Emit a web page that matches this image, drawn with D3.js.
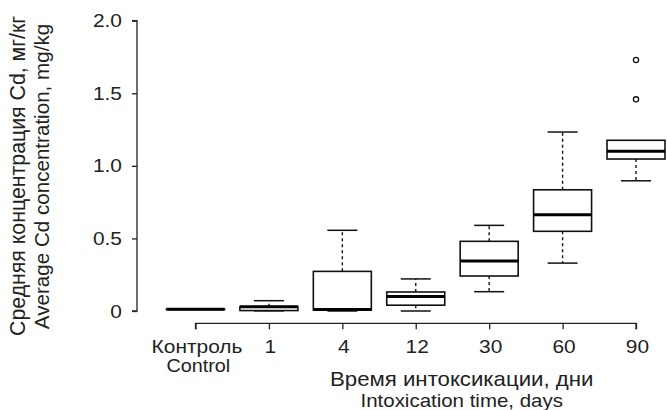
<!DOCTYPE html>
<html>
<head>
<meta charset="utf-8">
<script src="https://cdn.jsdelivr.net/npm/d3@7"></script>
<style>
  body { margin: 0; background: #fff; }
  text { font-family: "Liberation Sans", Arial, sans-serif; fill: #222; }
</style>
</head>
<body>
<script>
// values (mg/kg)
var days = ['Контроль', '1', '4', '12', '30', '60', '90'];
var mins    = [0.010, 0.001, 0.000, 0.000, 0.133, 0.330, 0.897];
var q1s     = [0.010, 0.003, 0.007, 0.040, 0.241, 0.549, 1.047];
var medians = [0.012, 0.030, 0.010, 0.100, 0.344, 0.663, 1.100];
var q3s     = [0.014, 0.030, 0.273, 0.131, 0.480, 0.835, 1.176];
var maxs    = [0.014, 0.071, 0.556, 0.221, 0.590, 1.233, 1.176];
var outliers = [[], [], [], [], [], [], [1.458, 1.729]];
var yTicks = [0, 0.5, 1.0, 1.5, 2.0];

var W = 667, H = 410;
var sx = 1.1; // glyphs in the picture are a bit wide

var svg = d3.select('body').append('svg')
  .attr('width', W)
  .attr('height', H);

var x = d3.scalePoint()
  .domain(days)
  .range([195.5, 636]);

var y = d3.scaleLinear()
  .domain([0, 2])
  .range([311, 20.7]);

var boxW = 58, capW = 30;

// y axis
var yAxis = svg.append('g')
  .attr('transform', 'translate(137,0)')
  .call(d3.axisLeft(y).tickValues(yTicks).tickSize(5)
    .tickFormat(function(d) { return d === 0 ? '0' : d3.format('.1f')(d); }));
yAxis.select('.domain').attr('stroke', '#222').attr('stroke-width', 1.3).attr('d', 'M-5,20.7H0V311H-5');
yAxis.selectAll('.tick line').attr('stroke', '#222').attr('stroke-width', 1.3);
yAxis.selectAll('.tick text')
  .attr('x', null)
  .attr('transform', 'translate(-15,0) scale(' + sx + ',1)')
  .style('font-size', '19px').attr('fill', '#222');

// x axis
var xAxis = svg.append('g')
  .attr('transform', 'translate(0,323.3)')
  .call(d3.axisBottom(x).tickSize(6));
xAxis.select('.domain').attr('stroke', '#222').attr('stroke-width', 1.3)
  .attr('d', 'M' + x(days[0]) + ',6V0H' + x(days[days.length - 1]) + 'V6');
xAxis.selectAll('.tick line').attr('stroke', '#222').attr('stroke-width', 1.3);
xAxis.selectAll('.tick text')
  .attr('y', null).attr('dy', null)
  .attr('transform', 'translate(1,30) scale(' + sx + ',1)')
  .style('font-size', '19px').attr('fill', '#222');

function hText(tx, ty, size, s) {
  svg.append('text')
    .attr('transform', 'translate(' + tx + ',' + ty + ') scale(' + sx + ',1)')
    .attr('text-anchor', 'middle')
    .style('font-size', size + 'px')
    .text(s);
}
hText(198.3, 371.7, 18, 'Control');
hText(461.7, 386, 20.2, 'Время интоксикации, дни');
hText(461.7, 407, 18.6, 'Intoxication time, days');

svg.append('text')
  .attr('transform', 'translate(25,176) rotate(-90)')
  .attr('text-anchor', 'middle')
  .style('font-size', '21.3px')
  .text('Средняя концентрация Cd, мг/кг');

svg.append('text')
  .attr('transform', 'translate(49.3,176.5) rotate(-90)')
  .attr('text-anchor', 'middle')
  .style('font-size', '20.6px')
  .text('Average Cd concentration, mg/kg');

// boxes
var data = days.map(function(d, i) {
  return { day: d, min: mins[i], q1: q1s[i], med: medians[i], q3: q3s[i], max: maxs[i], out: outliers[i] };
});

var g = svg.selectAll('.box').data(data).enter()
  .append('g').attr('class', 'box');

// whiskers
g.append('line')
  .attr('x1', function(d) { return x(d.day); })
  .attr('x2', function(d) { return x(d.day); })
  .attr('y1', function(d) { return y(d.q3); })
  .attr('y2', function(d) { return y(d.max); })
  .attr('stroke', '#111').attr('stroke-width', 1.4).attr('stroke-dasharray', '3,3');
g.append('line')
  .attr('x1', function(d) { return x(d.day); })
  .attr('x2', function(d) { return x(d.day); })
  .attr('y1', function(d) { return y(d.q1); })
  .attr('y2', function(d) { return y(d.min); })
  .attr('stroke', '#111').attr('stroke-width', 1.4).attr('stroke-dasharray', '3,3');

// caps
['min', 'max'].forEach(function(k) {
  g.filter(function(d) { return d[k] !== d.q1 && d[k] !== d.q3; })
    .append('line')
    .attr('x1', function(d) { return x(d.day) - capW / 2; })
    .attr('x2', function(d) { return x(d.day) + capW / 2; })
    .attr('y1', function(d) { return y(d[k]); })
    .attr('y2', function(d) { return y(d[k]); })
    .attr('stroke', '#111').attr('stroke-width', 1.5);
});

g.append('rect')
  .attr('x', function(d) { return x(d.day) - boxW / 2; })
  .attr('width', boxW)
  .attr('y', function(d) { return y(d.q3); })
  .attr('height', function(d) { return y(d.q1) - y(d.q3); })
  .attr('fill', '#fff')
  .attr('stroke', '#111').attr('stroke-width', 1.6);

g.append('line')
  .attr('x1', function(d) { return x(d.day) - boxW / 2; })
  .attr('x2', function(d) { return x(d.day) + boxW / 2; })
  .attr('y1', function(d) { return y(d.med); })
  .attr('y2', function(d) { return y(d.med); })
  .attr('stroke', '#000').attr('stroke-width', 3);

g.selectAll('.out').data(function(d) { return d.out.map(function(v) { return { day: d.day, v: v }; }); })
  .enter().append('circle')
  .attr('class', 'out')
  .attr('cx', function(d) { return x(d.day); })
  .attr('cy', function(d) { return y(d.v); })
  .attr('r', 2.6)
  .attr('fill', 'none')
  .attr('stroke', '#111').attr('stroke-width', 1.3);
</script>
</body>
</html>
